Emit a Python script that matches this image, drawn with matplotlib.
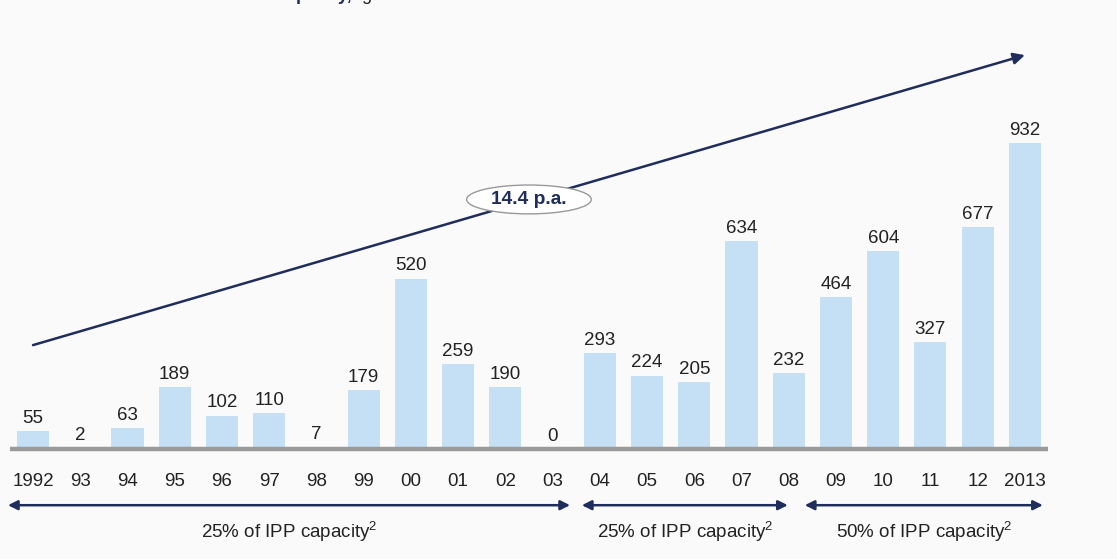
import matplotlib.pyplot as plt
from matplotlib.patches import Ellipse

# Data
years = ["1992", "93", "94", "95", "96", "97", "98", "99", "00", "01", "02", "03",
         "04", "05", "06", "07", "08", "09", "10", "11", "12", "2013"]
values = [55, 2, 63, 189, 102, 110, 7, 179, 520, 259, 190, 0,
          293, 224, 205, 634, 232, 464, 604, 327, 677, 932]
cagr_label = "14.4 p.a."
groups = ["25% of IPP capacity$^2$", "25% of IPP capacity$^2$", "50% of IPP capacity$^2$"]
group_spans = [(-0.53, 11.37), (11.62, 15.98), (16.34, 21.38)]

navy = "#1f2d5c"
bar_color = "#c5dff4"
text_color = "#222222"

plt.rcParams['font.family'] = ['Liberation Sans', 'DejaVu Sans']
plt.rcParams['mathtext.fontset'] = 'custom'
plt.rcParams['mathtext.rm'] = 'Liberation Sans'
plt.rcParams['mathtext.it'] = 'Liberation Sans'
plt.rcParams['mathtext.default'] = 'regular'

fs = 13.5

fig = plt.figure(figsize=(11.17, 5.59), dpi=100, facecolor="#fafafa")
ax = fig.add_axes([0, 0, 1, 1])
ax.set_facecolor("#fafafa")
ax.set_xlim(-0.699, 22.95)
ax.set_ylim(-335, 1369)
ax.axis("off")

x = list(range(len(years)))
bars = ax.bar(x, values, width=0.68, color=bar_color, zorder=2)

for xi, v in zip(x, values):
    ax.annotate(str(v), (xi, v), xytext=(0, 3), textcoords="offset points",
                ha="center", va="bottom", fontsize=fs, color=text_color)

# baseline
ax.plot([-0.487, 21.49], [0, 0], color="#9a9a9a", lw=3.2, solid_capstyle="butt", zorder=3)

# year labels
for xi, yr in zip(x, years):
    ax.text(xi, -99, yr, ha="center", va="center", fontsize=fs, color=text_color)

# trend arrow
ax.annotate("", xy=(21, 1201), xytext=(0, 317),
            arrowprops=dict(arrowstyle="-|>", color=navy, lw=1.8,
                            mutation_scale=17, shrinkA=0, shrinkB=0))
ax.add_patch(Ellipse((10.5, 761), 2.64, 88, facecolor="white",
                     edgecolor="#999999", lw=1, zorder=4))
ax.text(10.5, 761, cagr_label, ha="center", va="center", fontsize=13.8,
        fontweight="bold", color=navy, zorder=5)

# group brackets
for (x0, x1), lab in zip(group_spans, groups):
    ax.annotate("", xy=(x1, -171), xytext=(x0, -171),
                arrowprops=dict(arrowstyle="<|-|>", color=navy, lw=1.8,
                                mutation_scale=14, shrinkA=0, shrinkB=0))
    ax.text((x0 + x1) / 2, -253, lab, ha="center", va="center",
            fontsize=fs, color=text_color)

# title, cut off at top of the slide
fig.text(352 / 1117, 1.0, "Installed capacity,", ha="right", va="baseline",
         fontsize=13, fontweight="bold", color=navy)
fig.text(357 / 1117, 1.0, " gross additions in MW", ha="left", va="baseline",
         fontsize=13, color=text_color)

fig.savefig("out.png", dpi=100, facecolor=fig.get_facecolor())
